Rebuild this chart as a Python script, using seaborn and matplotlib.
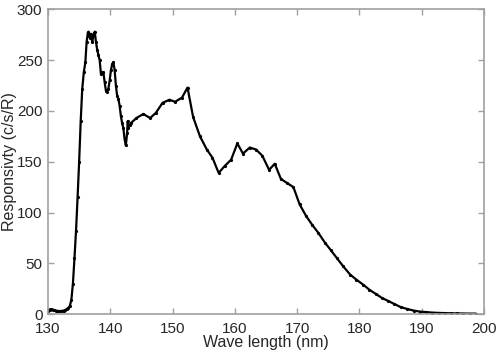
import numpy as np
import pandas as pd
import matplotlib
matplotlib.use('Agg')
import matplotlib.pyplot as plt
import seaborn as sns

# wavelength (nm) and responsivity (c/s/R)
wavelength = [130.0, 130.25, 130.5, 130.75, 131.0, 131.25, 131.5, 131.75, 132.0, 132.25,
              132.5, 132.75, 133.0, 133.25, 133.5, 133.75, 134.0, 134.25, 134.5, 134.75,
              135.0, 135.25, 135.5, 135.75, 136.0, 136.2, 136.4, 136.5, 136.7, 136.9,
              137.1, 137.3, 137.5, 137.7, 137.9, 138.1, 138.3, 138.5, 138.7, 138.9,
              139.1, 139.3, 139.5, 139.7, 139.9, 140.1, 140.3, 140.5, 140.7, 140.9,
              141.1, 141.3, 141.5, 141.7, 141.9, 142.1, 142.3, 142.5, 142.7, 142.8,
              142.9, 143.1, 143.3, 144.2, 145.3, 146.4, 147.3, 148.4, 149.5, 150.4,
              151.5, 152.4, 153.3, 154.4, 155.5, 156.4, 157.4, 158.4, 159.4, 160.4,
              161.3, 162.4, 163.4, 164.4, 165.5, 166.4, 167.4, 168.4, 169.4, 170.4,
              171.4, 172.4, 173.4, 174.5, 175.4, 176.4, 177.4, 178.5, 179.5, 180.6,
              181.6, 182.6, 183.6, 184.6, 185.6, 186.6, 187.7, 188.7, 189.7, 190.7,
              191.7, 192.7, 193.7, 194.7, 195.7, 196.7, 197.7, 198.7]
responsivity = [3.5, 4.5, 5, 4.5, 4, 3.5, 3.2, 3, 3, 3.2,
                3.5, 4, 5, 6, 8, 14, 30, 55, 82, 115,
                150, 190, 222, 238, 248, 268, 277, 278, 272, 276,
                268, 274, 278, 268, 260, 255, 250, 236, 238, 238,
                228, 220, 219, 222, 230, 240, 246, 248, 240, 225,
                215, 212, 205, 195, 188, 183, 172, 166, 178, 190,
                183, 186, 188, 193, 197, 193, 198, 208, 211, 209,
                213, 223, 194, 175, 162, 154, 139, 146, 152, 168,
                158, 164, 162, 156, 142, 148, 133, 129, 125, 108,
                97, 88, 80, 70, 63, 55, 47, 39, 34, 29,
                24, 20, 16, 13, 10, 7, 5, 3.5, 2.5, 2,
                1.5, 1.2, 1.0, 0.8, 0.7, 0.6, 0.5, 0.5]

df = pd.DataFrame({'wl': wavelength, 'resp': responsivity})

sns.set_style('white')
plt.rcParams['font.family'] = ['Liberation Sans', 'DejaVu Sans']

fig = plt.figure(figsize=(5, 3.59), dpi=100)
ax = fig.add_axes([0.096, 0.125, 0.872, 0.849])

sns.lineplot(data=df, x='wl', y='resp', ax=ax, color='black', linewidth=1.6,
             marker='o', markersize=2.3, markeredgewidth=0, sort=False)

ax.set_xlim(130, 200)
ax.set_ylim(0, 300)
ax.set_xticks(np.arange(130, 201, 10))
ax.set_yticks(np.arange(0, 301, 50))
ax.set_xlabel('Wave length (nm)', fontsize=11.5, color='#262626', labelpad=-1)
ax.set_ylabel('Responsivty (c/s/R)', fontsize=11.5, color='#262626', labelpad=0)

for s in ax.spines.values():
    s.set_visible(True)
    s.set_color('#a0a0a0')
    s.set_linewidth(1.2)
ax.tick_params(direction='in', length=4, width=1, color='#a0a0a0',
               labelsize=11, labelcolor='#262626',
               top=True, right=True, bottom=True, left=True)
ax.tick_params(axis='x', pad=6)
ax.tick_params(axis='y', pad=4)

fig.savefig('out.png', dpi=100)
